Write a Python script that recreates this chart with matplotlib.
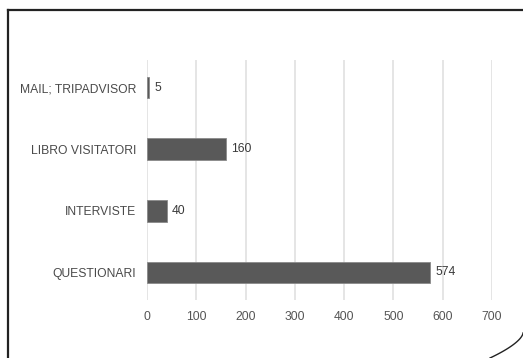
import matplotlib
matplotlib.use("Agg")
import matplotlib.pyplot as plt
import numpy as np
from matplotlib.lines import Line2D

categories = ["MAIL; TRIPADVISOR", "LIBRO VISITATORI", "INTERVISTE", "QUESTIONARI"]
values = [5, 160, 40, 574]
xticks = [0, 100, 200, 300, 400, 500, 600, 700]

plt.rcParams['font.family'] = ['Liberation Sans', 'DejaVu Sans']

fig = plt.figure(figsize=(5.23, 3.58), dpi=100)
ax = fig.add_axes([147/523, 1-300/358, (492-147)/523, 240/358])

pos = np.arange(len(categories))
ax.barh(pos, values, height=0.35, color='#595959', edgecolor='#8a8a8a', linewidth=0.6, zorder=3)
for p, v in zip(pos, values):
    ax.text(v + 11, p, str(v), va='center', ha='left', fontsize=8.7, color='#3a3a3a')

ax.set_yticks(pos)
ax.set_yticklabels(categories, fontsize=8.7, color='#4a4a4a')
ax.set_ylim(len(categories) - 0.55, -0.45)
ax.set_xlim(0, 700)
ax.set_xticks(xticks)
ax.set_xticklabels([str(t) for t in xticks], fontsize=8.7, color='#555555')
ax.tick_params(length=0)
ax.tick_params(axis='x', pad=8)
ax.tick_params(axis='y', pad=8)
ax.grid(axis='x', color='#e0e0e0', linewidth=1.2, zorder=0)
for s in ax.spines.values():
    s.set_visible(False)

# page border
fig.add_artist(Line2D([8/523, 8/523], [0, 1-10/358], color='#222222', linewidth=1.6))
fig.add_artist(Line2D([8/523, 1], [1-10/358, 1-10/358], color='#222222', linewidth=1.6))
t = np.linspace(0, 1, 50)
cx = (523 - 33 * t**1.6) / 523
cy = 1 - (333 + 25 * t) / 358
fig.add_artist(Line2D(cx, cy, color='#222222', linewidth=1.0))

fig.savefig("out.png", dpi=100)
